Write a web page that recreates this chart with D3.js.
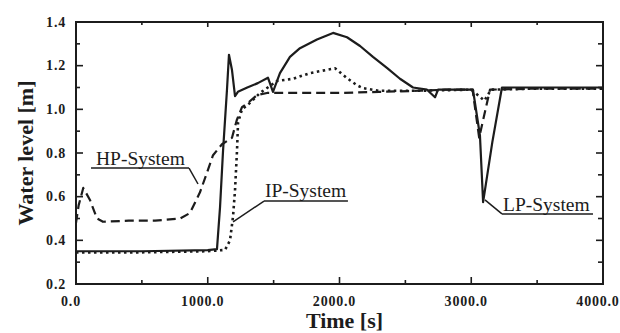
<!DOCTYPE html>
<html>
<head>
<meta charset="utf-8">
<script src="https://cdn.jsdelivr.net/npm/d3@7"></script>
<style>
  body { margin: 0; background: #fff; }
  svg { display: block; }
</style>
</head>
<body>
<div id="chart"></div>
<script>
// --- data ---
const lpTime  = [0, 500, 1000, 1070, 1093, 1116, 1146, 1161, 1184, 1207, 1229, 1300, 1380, 1457, 1495, 1548, 1624, 1700, 1829, 1951, 2057, 2156, 2254, 2360, 2459, 2558, 2664, 2725, 2748, 2900, 3013, 3066, 3090, 3160, 3233, 3500, 4000];
const lpLevel = [0.35, 0.35, 0.355, 0.36, 0.55, 0.81, 1.09, 1.25, 1.18, 1.06, 1.08, 1.10, 1.12, 1.145, 1.08, 1.166, 1.24, 1.28, 1.32, 1.35, 1.33, 1.29, 1.24, 1.19, 1.14, 1.10, 1.09, 1.055, 1.09, 1.09, 1.09, 0.88, 0.575, 0.85, 1.10, 1.10, 1.10];

const hpTime  = [0, 20, 55, 106, 159, 205, 400, 600, 790, 865, 941, 994, 1040, 1108, 1184, 1220, 1260, 1306, 1374, 1450, 1700, 2000, 2300, 2600, 2800, 3010, 3060, 3142, 3500, 4000];
const hpLevel = [0.48, 0.56, 0.64, 0.585, 0.50, 0.485, 0.49, 0.49, 0.50, 0.525, 0.62, 0.71, 0.79, 0.84, 0.87, 0.95, 1.01, 1.03, 1.065, 1.075, 1.075, 1.075, 1.08, 1.085, 1.09, 1.09, 0.87, 1.09, 1.095, 1.095];

const ipTime  = [0, 500, 1000, 1131, 1169, 1192, 1207, 1222, 1230, 1260, 1321, 1397, 1526, 1647, 1776, 1966, 2057, 2133, 2178, 2300, 2600, 3000, 3060, 3100, 3150, 3500, 4000];
const ipLevel = [0.345, 0.345, 0.35, 0.356, 0.40, 0.51, 0.63, 0.81, 0.94, 1.0, 1.03, 1.075, 1.13, 1.14, 1.166, 1.188, 1.143, 1.11, 1.097, 1.085, 1.085, 1.09, 1.06, 1.04, 1.09, 1.095, 1.095];

const xTicks = [0, 1000, 2000, 3000, 4000];
const yTicks = [0.2, 0.4, 0.6, 0.8, 1.0, 1.2, 1.4];

// annotation labels (text start, underline span, pointer end) in data units
const labelNames  = ["HP-System", "IP-System", "LP-System"];
const labelTextT  = [152, 1434, 3241];
const labelTextV  = [0.745, 0.599, 0.534];
const lineFromT   = [114, 1427, 3233];
const lineToT     = [858, 2064, 3924];
const lineV       = [0.731, 0.580, 0.521];
const pointerT    = [926, 1192, 3104];
const pointerV    = [0.658, 0.484, 0.585];
const pointerFromEnd = [true, false, false];

const width = 620, height = 333;
const margin = { top: 22, right: 17, bottom: 49, left: 76 };
const ink = "#1c1c1c";

const svg = d3.select("#chart").append("svg")
    .attr("width", width).attr("height", height)
    .attr("viewBox", [0, 0, width, height]);

const x = d3.scaleLinear().domain([0, 4000]).range([margin.left, width - margin.right]);
const y = d3.scaleLinear().domain([0.2, 1.4]).range([height - margin.bottom, margin.top]);

const g = svg.append("g");

// minor + major ticks, all pointing inward
const tickG = g.append("g").attr("stroke", ink).attr("stroke-width", 1.6);
d3.range(0, 4001, 500).forEach(t => {
    const major = t % 1000 === 0;
    tickG.append("line").attr("x1", x(t)).attr("x2", x(t))
        .attr("y1", y(0.2)).attr("y2", y(0.2) - (major ? 7 : 4));
    tickG.append("line").attr("x1", x(t)).attr("x2", x(t))
        .attr("y1", y(1.4)).attr("y2", y(1.4) + (major ? 5 : 3));
});
d3.range(2, 15).map(d => d / 10).forEach(v => {
    const major = Math.round(v * 10) % 2 === 0;
    tickG.append("line").attr("x1", x(0)).attr("x2", x(0) + (major ? 7 : 4))
        .attr("y1", y(v)).attr("y2", y(v));
    tickG.append("line").attr("x1", x(4000)).attr("x2", x(4000) - (major ? 7 : 5))
        .attr("y1", y(v)).attr("y2", y(v));
});

// frame
g.append("rect")
    .attr("x", x(0)).attr("y", y(1.4))
    .attr("width", x(4000) - x(0)).attr("height", y(0.2) - y(1.4))
    .attr("fill", "none").attr("stroke", ink).attr("stroke-width", 2);

// tick labels
const tickFont = "'Liberation Serif', 'Times New Roman', serif";
g.append("g").selectAll("text").data(xTicks).join("text")
    .attr("x", d => x(d) - 5).attr("y", 306)
    .attr("text-anchor", "middle")
    .attr("font-family", tickFont).attr("font-weight", "bold")
    .attr("font-size", 14).attr("letter-spacing", 0.8).attr("fill", ink)
    .text(d => d.toFixed(1));

g.append("g").selectAll("text").data(yTicks).join("text")
    .attr("x", 66).attr("y", d => y(d) + 4.5)
    .attr("text-anchor", "end")
    .attr("font-family", tickFont).attr("font-weight", "bold")
    .attr("font-size", 14).attr("letter-spacing", 0.8).attr("fill", ink)
    .text(d => d.toFixed(1));

// axis titles
svg.append("text")
    .attr("x", (x(0) + x(4000)) / 2 + 5).attr("y", 328)
    .attr("text-anchor", "middle")
    .attr("font-family", tickFont).attr("font-weight", "bold").attr("font-size", 22)
    .attr("fill", ink).text("Time [s]");

svg.append("text")
    .attr("transform", `translate(33, ${(y(0.2) + y(1.4)) / 2}) rotate(-90)`)
    .attr("text-anchor", "middle")
    .attr("font-family", tickFont).attr("font-weight", "bold").attr("font-size", 22)
    .attr("fill", ink).text("Water level [m]");

// series
const line = d3.line().x(d => x(d[0])).y(d => y(d[1]));
const zip = (a, b) => a.map((t, i) => [t, b[i]]);

const plot = g.append("g").attr("fill", "none").attr("stroke", ink)
    .attr("stroke-linejoin", "round");

plot.append("path").attr("d", line(zip(ipTime, ipLevel)))
    .attr("stroke-width", 2.6).attr("stroke-dasharray", "2.5,3.5");

plot.append("path").attr("d", line(zip(hpTime, hpLevel)))
    .attr("stroke-width", 2.2).attr("stroke-dasharray", "9,5");

plot.append("path").attr("d", line(zip(lpTime, lpLevel)))
    .attr("stroke-width", 2.2);

// annotations
const ann = g.append("g");
labelNames.forEach((name, i) => {
    ann.append("text")
        .attr("x", x(labelTextT[i])).attr("y", y(labelTextV[i]))
        .attr("font-family", tickFont).attr("font-size", 19.5)
        .attr("fill", ink).text(name);
    ann.append("line")
        .attr("x1", x(lineFromT[i])).attr("x2", x(lineToT[i]))
        .attr("y1", y(lineV[i])).attr("y2", y(lineV[i]))
        .attr("stroke", ink).attr("stroke-width", 1.5);
    const startT = pointerFromEnd[i] ? lineToT[i] : lineFromT[i];
    ann.append("line")
        .attr("x1", x(startT)).attr("y1", y(lineV[i]))
        .attr("x2", x(pointerT[i])).attr("y2", y(pointerV[i]))
        .attr("stroke", ink).attr("stroke-width", 1.5);
});
</script>
</body>
</html>
